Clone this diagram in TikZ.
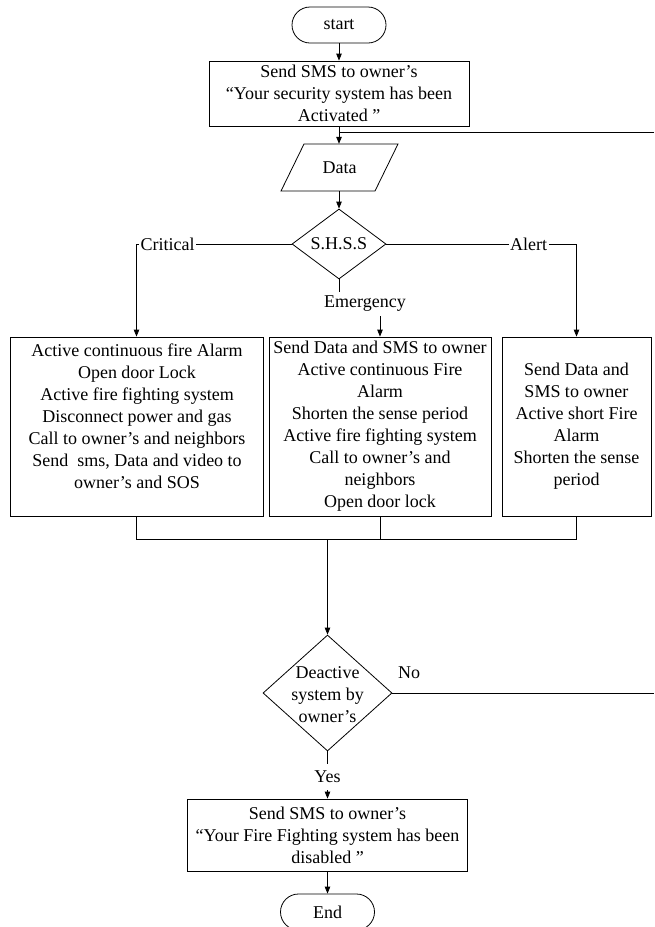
\documentclass[tikz,border=0pt]{standalone}
\usepackage{fontspec}
\setmainfont{Liberation Serif}
\usetikzlibrary{shapes.geometric,arrows.meta,calc}
\begin{document}
\begin{tikzpicture}[x=1pt,y=-1pt,
  every node/.style={font=\fontsize{18}{22}\selectfont, align=center, inner sep=0pt},
  line/.style={line width=0.8pt},
  arr/.style={line width=0.8pt, -{Triangle[length=7pt,width=5.5pt]}},
  term/.style={draw, line width=0.8pt, rounded corners=18pt, minimum width=94pt, minimum height=36pt},
  proc/.style={draw, line width=0.8pt},
  dia/.style={draw, line width=0.8pt, diamond},
  lbl/.style={fill=white, inner sep=1.5pt}]
\useasboundingbox (0,0) rectangle (654,927);
% nodes
\node[term] (start) at (339,25) {start};
\node[proc, minimum width=260pt, minimum height=65pt] (b1) at (339,93.5)
  {Send SMS to owner’s\\“Your security system has been\\Activated ”};
\node[minimum width=94pt, minimum height=47pt] (data) at (339.5,167.5) {Data};
\draw[line] ($(data.center)+(-58.5,23.5)$) -- ($(data.center)+(35.5,23.5)$)
  -- ($(data.center)+(58.5,-23.5)$) -- ($(data.center)+(-35.5,-23.5)$) -- cycle;
\node[dia, minimum width=94pt, minimum height=70pt] (shss) at (339,244) {S.H.S.S};
\node[proc, minimum width=253pt, minimum height=179pt] (lbox) at (136.5,426.5) {};
\node (ltext) at (137,416.5) {Active continuous fire Alarm\\Open door Lock\\Active fire fighting system\\Disconnect power and gas\\Call to owner’s and neighbors\\Send~ sms, Data and video to\\owner’s and SOS};
\node[proc, minimum width=222pt, minimum height=179pt] (mbox) at (380,426.5)
  {Send Data and SMS to owner\\Active continuous Fire\\Alarm\\Shorten the sense period\\Active fire fighting system\\Call to owner’s and\\neighbors\\Open door lock};
\node[proc, minimum width=149pt, minimum height=179pt] (rbox) at (576.5,426.5)
  {Send Data and\\SMS to owner\\Active short Fire\\Alarm\\Shorten the sense\\period};
\node[minimum height=24pt] (emer) at (365,304) {Emergency};
\coordinate (jn) at (327.5,539.5);
\node[dia, minimum width=129pt, minimum height=116pt] (dec) at (327.5,693) {};
\node (dect) at (327.5,694.5) {Deactive\\system by\\owner’s};
\node (no) at (409,673) {No};
\node[minimum height=26pt] (yes) at (327.5,777) {Yes};
\node[proc, minimum width=280pt, minimum height=72pt] (fbox) at (327.5,835)
  {Send SMS to owner’s\\“Your Fire Fighting system has been\\disabled ”};
\node[term] (end) at (327.5,912) {End};
\coordinate (loopR) at (654,132);
\coordinate (noR) at (654,693);
% connectors
\draw[arr] (start) -- (b1);
\draw[arr] (b1.south) -- (b1.south |- data.north);
\draw[line] (loopR) -- (loopR -| b1.south);
\draw[arr] (data.south -| shss.north) -- (shss.north);
\draw[arr] (shss.west) -| node[lbl, pos=0.4] {Critical} (lbox.north);
\draw[arr] (shss.east) -| node[lbl, pos=0.374] {Alert} (rbox.north);
\draw[line] (shss.south) -- (shss.south |- emer.north);
\draw[arr] (mbox.north |- emer.south) -- (mbox.north);
\draw[line] (lbox.south) -- (lbox.south |- jn) -- (rbox.south |- jn) -- (rbox.south);
\draw[line] (mbox.south) -- (mbox.south |- jn);
\draw[arr] (jn) -- (dec.north);
\draw[line] (dec.east) -- (noR);
\draw[line] (dec.south) -- (yes.north);
\draw[arr] (yes.south) -- (fbox.north);
\draw[arr] (fbox.south) -- (end.north);
\end{tikzpicture}
\end{document}
